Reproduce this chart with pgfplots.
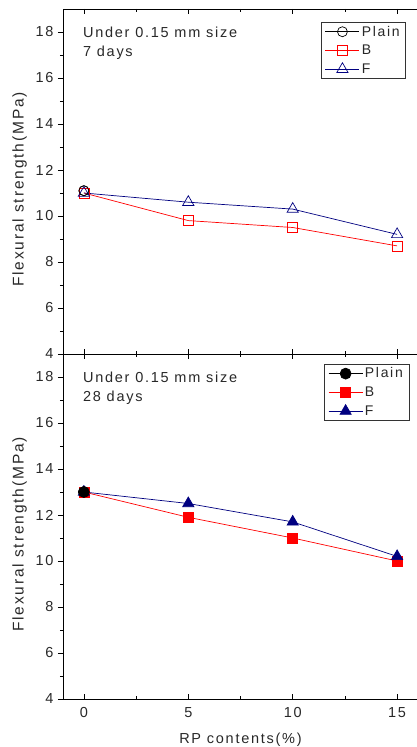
\documentclass[border=0pt]{standalone}
\usepackage{pgfplots}
\pgfplotsset{compat=1.18}
\usepackage{fontspec}
\setmainfont{Liberation Sans}
\newfontfamily\spaced[LetterSpace=12]{Liberation Sans}
\definecolor{navy}{RGB}{0,0,128}
\definecolor{txt}{RGB}{40,40,40}
\pgfplotsset{
  panel/.style={
    scale only axis, width=355pt, height=345pt,
    xmin=-1, xmax=16, ymin=4, ymax=19,
    xtick={0,5,10,15}, minor xtick={2.5,7.5,12.5},
    ytick={4,6,...,18}, minor ytick={5,7,...,17},
    xtick pos=both, ytick pos=left,
    xtick align=inside, ytick align=outside,
    major tick length=5pt, minor tick length=3pt,
    tick style={black, line width=0.6pt},
    axis line style={line width=0.8pt},
    tick label style={font=\spaced\fontsize{14.5}{16}\selectfont, text=txt},
    yticklabel style={xshift=-1pt},
    /pgf/number format/assume math mode=true,
    ylabel={Flexural strength(MPa)},
    ylabel style={font=\spaced\fontsize{15.5}{17}\selectfont, text=txt, yshift=2pt, xshift=-8pt},
    legend cell align=left,
    legend style={font=\spaced\fontsize{14}{15}\selectfont, text=txt, draw=black!80, line width=0.6pt, inner xsep=4pt, inner ysep=1.5pt, row sep=3.5pt},
    every axis plot/.append style={line width=0.7pt},
    every axis plot post/.append style={legend image code/.code={\draw[mark repeat=2,mark phase=2] plot coordinates {(0pt,0pt) (17pt,0pt) (34pt,0pt)};}},
  }
}
\begin{document}
\begin{tikzpicture}
\begin{axis}[panel, at={(0,345pt)}, anchor=south west, xticklabels={},
  legend style={at={(rel axis cs:0.966,0.962)}, anchor=north east}]
\addplot[black, mark=o, mark size=5pt, mark options={fill=white}] coordinates {(0,11.1)};
\addlegendentry{Plain}
\addplot[red, mark=square, mark size=5pt, mark options={fill=white}] coordinates {(0,11.0) (5,9.8) (10,9.5) (15,8.7)};
\addlegendentry{B}
\addplot[navy, mark=triangle, mark size=6.5pt, mark options={fill=white}] coordinates {(0,11.0) (5,10.6) (10,10.3) (15,9.2)};
\addlegendentry{F}
\addplot[black, only marks, mark=o, mark size=5pt, mark options={fill=white}, forget plot] coordinates {(0,11.1)};
\node[anchor=north west, align=left, font=\spaced\fontsize{14.5}{18.5}\selectfont, text=txt, inner sep=0pt] at (rel axis cs:0.056,0.948) {Under 0.15 mm size\\7 days};
\end{axis}
\begin{axis}[panel, at={(0,0)}, anchor=south west,
  xticklabel style={yshift=-5pt},
  xlabel={RP contents(\%)}, xlabel style={font=\spaced\fontsize{14.5}{16}\selectfont, text=txt, yshift=-8pt},
  legend style={at={(rel axis cs:0.975,0.971)}, anchor=north east}]
\addplot[black, mark=*, mark size=5.5pt] coordinates {(0,13.0)};
\addlegendentry{Plain}
\addplot[red, mark=square*, mark size=5pt] coordinates {(0,13.0) (5,11.9) (10,11.0) (15,10.0)};
\addlegendentry{B}
\addplot[navy, mark=triangle*, mark size=6.5pt] coordinates {(0,13.0) (5,12.5) (10,11.7) (15,10.2)};
\addlegendentry{F}
\addplot[black, only marks, mark=*, mark size=5.5pt, forget plot] coordinates {(0,13.0)};
\node[anchor=north west, align=left, font=\spaced\fontsize{14.5}{18.5}\selectfont, text=txt, inner sep=0pt] at (rel axis cs:0.056,0.948) {Under 0.15 mm size\\28 days};
\end{axis}
\pgfresetboundingbox
\path (-63pt,-48pt) rectangle (354pt,699pt);
\end{tikzpicture}
\end{document}
